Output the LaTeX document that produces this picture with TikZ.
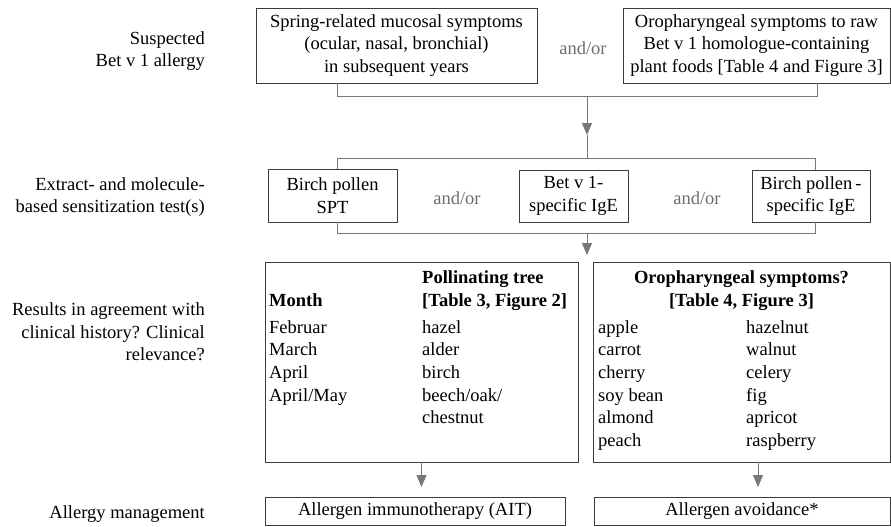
\documentclass[tikz,border=0pt]{standalone}
\usepackage{fontspec}
\setmainfont{Liberation Serif}
\usetikzlibrary{arrows.meta}
\definecolor{boxline}{RGB}{60,60,60}
\definecolor{linkgray}{RGB}{120,120,120}
\definecolor{orgray}{RGB}{110,110,110}

\begin{document}
\begin{tikzpicture}[x=1pt,y=-1pt,
  font=\fontsize{18.5}{22.7}\selectfont,
  box/.style={draw=boxline, line width=0.8pt, inner sep=0pt, align=center},
  link/.style={draw=linkgray, line width=1pt},
  arr/.style={link, -{Triangle[width=10pt,length=12pt]}},
  andor/.style={text=orgray, inner sep=0pt},
  side/.style={align=right, anchor=east, inner sep=0pt},
  cell/.style={anchor=base west, inner sep=0pt},
  head/.style={font=\fontsize{18.5}{22.7}\selectfont\bfseries, inner sep=0pt}]

\useasboundingbox (0,0) rectangle (891,527);

% row spacing inside the result boxes
\def\rowA{333}
\def\rowstep{22.7}

%---------------------------------------
% Left column: steps
%---------------------------------------
\node[side] (susp) at (205,51) {Suspected\\Bet v 1 allergy};
\node[side] (test) at (205,197) {Extract- and molecule-\\based sensitization test(s)};
\node[side] (relev) at (205,332) {Results in agreement with\\clinical history? Clinical\\relevance?};
\node[side] (mgmt) at (205,514) {Allergy management};

%---------------------------------------
% Suspicion
%---------------------------------------
\node[box, minimum width=281pt, minimum height=75pt] (spring) at (396.5,45.5)
  {Spring-related mucosal symptoms\\(ocular, nasal, bronchial)\\in subsequent years};
\node[box, minimum width=267pt, minimum height=75pt] (oral) at (756.5,45.5)
  {Oropharyngeal symptoms to raw\\Bet v 1 homologue-containing\\plant foods [Table 4 and Figure 3]};
\node[andor] (or1) at (583,48) {and/or};

\coordinate (legL) at (337,96);
\coordinate (legR) at (817,96);
\coordinate (split1) at (587,96);
\coordinate (tip1) at (587,135);
\draw[link] (legL |- spring.south) -- (legL) -- (legR) -- (legR |- oral.south);
\draw[arr] (split1) -- (tip1);

%---------------------------------------
% Sensitization tests
%---------------------------------------
\node[box, minimum width=129pt, minimum height=53pt] (spt) at (332.5,195.5)
  {Birch pollen\\SPT};
\node[box, minimum width=109pt, minimum height=52pt] (betv) at (573.5,196)
  {Bet v 1-\\specific IgE};
\node[box, minimum width=118pt, minimum height=52pt] (bpige) at (811,196)
  {Birch pollen\,-\\specific IgE};
\node[andor] (or2) at (457,198) {and/or};
\node[andor] (or3) at (697,198) {and/or};

\coordinate (topL) at (337,158);
\coordinate (topR) at (815,158);
\coordinate (botL) at (337,233);
\coordinate (botR) at (815,233);
\coordinate (join2) at (587,158);
\coordinate (split2) at (587,233);
\coordinate (tip2) at (587,255);
\draw[link] (tip1) -- (join2);
\draw[link] (topL |- spt.north) -- (topL) -- (topR) -- (topR |- bpige.north);
\draw[link] (botL |- spt.south) -- (botL) -- (botR) -- (botR |- bpige.south);
\draw[arr] (split2) -- (tip2);

%---------------------------------------
% Clinical relevance
%---------------------------------------
\node[box, minimum width=313pt, minimum height=200pt] (trees) at (421.5,362) {};
\node[box, minimum width=297pt, minimum height=200pt] (foods) at (741.5,362) {};

\node[head, anchor=base west] (monthhd) at (269,306) {Month};
\node[head, anchor=base west] (treehd) at (422,283) {Pollinating tree};
\node[head, anchor=base west] (treeref) at (422,306) {[Table 3, Figure 2]};
\node[head, anchor=base] (foodhd) at (741.5,283) {Oropharyngeal symptoms?};
\node[head, anchor=base] (foodref) at (741.5,306) {[Table 4, Figure 3]};

\foreach \w [count=\i] in {Februar, March, April, April/May}
  \node[cell] (mon\i) at (269,{\rowA+\rowstep*(\i-1)}) {\w};
\foreach \w [count=\i] in {hazel, alder, birch, beech/oak/, chestnut}
  \node[cell] (tree\i) at (422,{\rowA+\rowstep*(\i-1)}) {\w};
\foreach \w [count=\i] in {apple, carrot, cherry, soy bean, almond, peach}
  \node[cell] (fruitA\i) at (598,{\rowA+\rowstep*(\i-1)}) {\w};
\foreach \w [count=\i] in {hazelnut, walnut, celery, fig, apricot, raspberry}
  \node[cell] (fruitB\i) at (746,{\rowA+\rowstep*(\i-1)}) {\w};

%---------------------------------------
% Management
%---------------------------------------
\node[box, minimum width=300pt, minimum height=28pt] (ait) at (415,511)
  {Allergen immunotherapy (AIT)};
\node[box, minimum width=296pt, minimum height=28pt] (avoid) at (742,511)
  {Allergen avoidance*};

\coordinate (tip3) at (421.5,487);
\coordinate (drop4) at (758,462);
\coordinate (tip4) at (758,487);
\draw[arr] (trees.south) -- (tip3);
\draw[arr] (drop4) -- (tip4);

\end{tikzpicture}
\end{document}
